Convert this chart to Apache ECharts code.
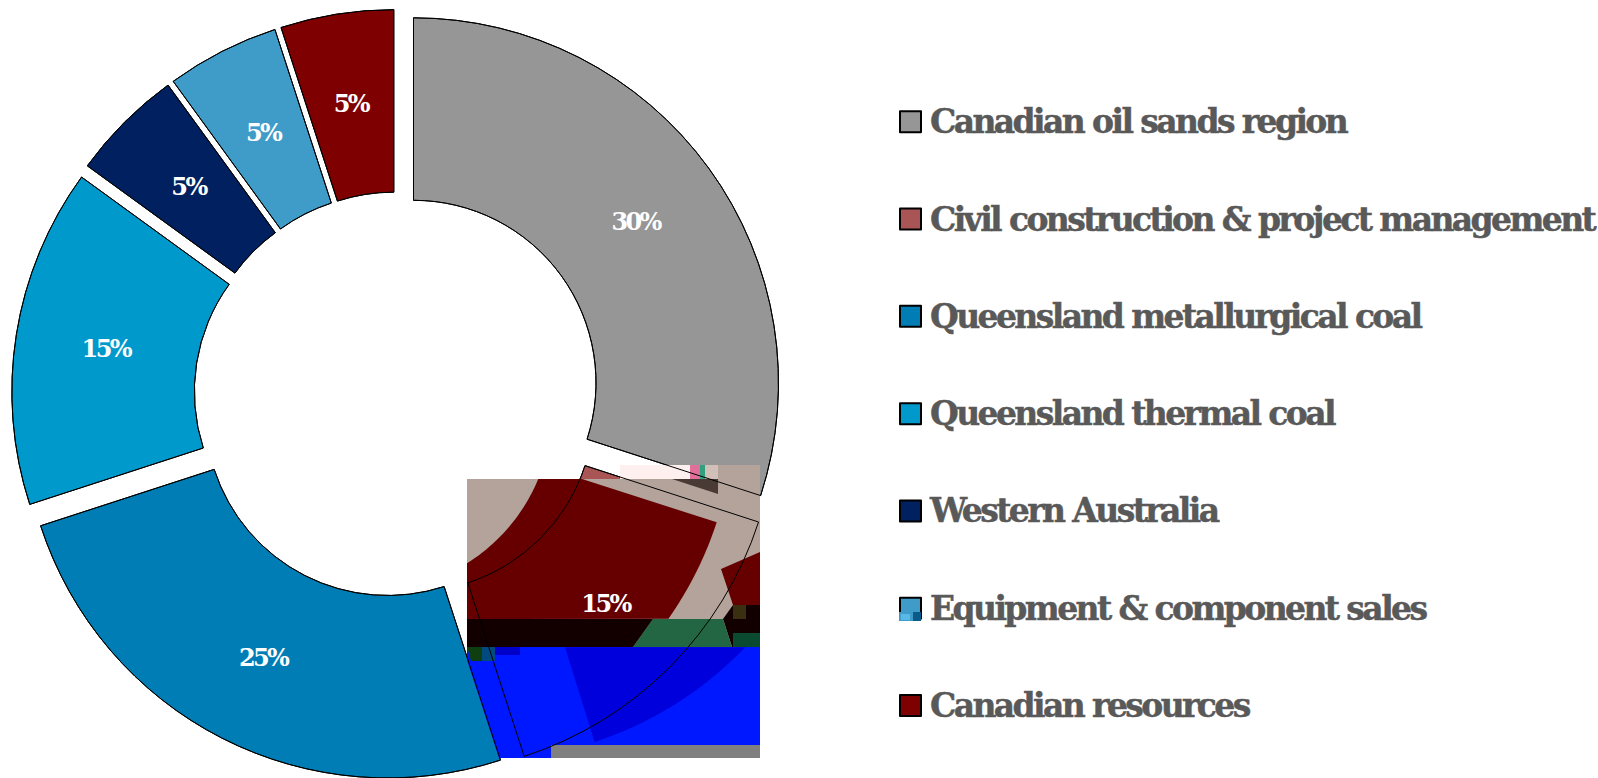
<!DOCTYPE html>
<html>
<head>
<meta charset="utf-8">
<title>Revenue by segment</title>
<script src="https://cdn.jsdelivr.net/npm/echarts@6/dist/echarts.min.js"></script>
<style>
html, body { margin: 0; padding: 0; background: #fff; }
#chart { width: 1598px; height: 778px; }
#chart svg text { letter-spacing: -2.6px; }
</style>
</head>
<body>
<div id="chart"></div>
<script>
// Segment names, clockwise from twelve o'clock
const segments = [
  'Canadian oil sands region',
  'Civil construction & project management',
  'Queensland metallurgical coal',
  'Queensland thermal coal',
  'Western Australia',
  'Equipment & component sales',
  'Canadian resources'
];
// Share of revenue in percent
const shares = [30, 15, 25, 15, 5, 5, 5];
const segmentColors = ['#969696', '#AA5555', '#007DB5', '#0099CC', '#002060', '#3F9CC8', '#7F0000'];

const FONT = '"DejaVu Serif"';
const CENTER = [397, 394.8];
const RADIUS = [182.5, 365];
const OFFSET = 20.4;

const outline = { borderColor: '#000', borderWidth: 1 };

// Points along a circular arc between two points lying on it
function arcPoints(cx, cy, from, to) {
  const r = Math.hypot(from[0] - cx, from[1] - cy);
  const a0 = Math.atan2(from[1] - cy, from[0] - cx);
  const a1 = Math.atan2(to[1] - cy, to[0] - cx);
  const pts = [];
  for (let i = 0; i <= 24; i++) {
    const a = a0 + (a1 - a0) * i / 24;
    pts.push([cx + r * Math.cos(a), cy + r * Math.sin(a)]);
  }
  return pts;
}

// Block of damaged pixels over the lower right of the ring
const patchPolys = [
  ['#B3A39A', [[467, 479], [718, 479], [718, 465], [760, 465], [760, 619], [467, 619]]],
  ['#660000', [
    [582, 479], [716.7, 522.3],
    ...arcPoints(370, 409, [716.7, 522.3], [669.3, 619.3]),
    [467, 619], [467, 563.3],
    ...arcPoints(370, 409, [467, 563.3], [538.3, 479])
  ]],
  ['#660000', [[721, 569], [760, 552], [760, 605], [733, 605]]],
  ['#120000', [[467, 619], [653, 619], [633, 647], [467, 647]]],
  ['#226644', [[653, 619], [723, 619], [732, 647], [633, 647]]],
  ['#120000', [[723, 619], [733, 605], [760, 605], [760, 647], [732, 647]]],
  ['#0018FF', [[467, 647], [760, 647], [760, 745], [551, 745], [551, 758], [499, 758], [467, 660]]],
  ['#0000DD', [[565, 647.3], ...arcPoints(482, 396, [745, 647.3], [595, 743])]],
  ['#808080', [[551, 745], [760, 745], [760, 758], [551, 758]]],
  ['#FFF0F0', [[620, 465], [690, 465], [690, 479], [620, 479]]],
  ['#AA5555', [[585, 467], [620, 478], [620, 479], [582, 479]]],
  ['#4A3A36', [[672, 479], [718, 479], [718, 494]]],
  ['#E0709A', [[690, 465], [700, 465], [700, 479], [690, 479]]],
  ['#30A080', [[700, 465], [705, 465], [705, 479], [700, 479]]],
  ['#D0C0B8', [[705, 465], [718, 465], [718, 479], [705, 479]]],
  ['#0F3F10', [[467, 647], [482, 647], [482, 661], [471, 661]]],
  ['#004A80', [[482, 647], [495, 647], [495, 661], [482, 661]]],
  ['#0000C8', [[495, 647], [520, 647], [520, 655], [495, 655]]],
  ['#3A3010', [[733, 605], [746, 605], [746, 619], [733, 619]]],
  ['#0A4A30', [[733, 633], [760, 633], [760, 647], [733, 647]]],
  ['#3F9CC8', [[899, 612], [913, 612], [913, 621], [899, 621]]],
  ['#58B8E8', [[901, 614], [910, 614], [910, 620], [901, 620]]],
  ['#0A5A8A', [[913, 612], [921, 612], [921, 621], [913, 621]]]
];

const chart = echarts.init(document.getElementById('chart'), null, { renderer: 'svg' });

const slices = segments.map((name, i) => ({
  name,
  value: shares[i],
  selected: true,
  itemStyle: { color: segmentColors[i] },
  select: { itemStyle: { color: segmentColors[i], ...outline } }
}));

// Later passes of the same ring: outlines, then labels, on top of the block
const plainSlices = segments.map((name, i) => ({
  name,
  value: shares[i],
  selected: true
}));

const ringBase = {
  type: 'pie',
  radius: RADIUS,
  center: CENTER,
  startAngle: 90,
  clockwise: true,
  animation: false,
  silent: true,
  avoidLabelOverlap: false,
  selectedMode: 'multiple',
  selectedOffset: OFFSET,
  labelLine: { show: false }
};

chart.setOption({
  backgroundColor: '#fff',
  animation: false,
  legend: {
    orient: 'vertical',
    left: 894,
    top: 100,
    itemWidth: 21,
    itemHeight: 21,
    itemGap: 63.8,
    icon: 'rect',
    selectedMode: false,
    data: segments,
    textStyle: {
      fontFamily: FONT,
      fontWeight: 'bold',
      fontSize: 33,
      lineHeight: 31,
      color: '#595959',
      textBorderColor: '#595959',
      textBorderWidth: 0.5,
      padding: [0, 0, 0, 4]
    }
  },
  graphic: patchPolys.map(([fill, points]) => ({
    type: 'polygon',
    z: 5,
    silent: true,
    shape: { points },
    style: { fill }
  })),
  series: [
    {
      ...ringBase,
      z: 2,
      itemStyle: outline,
      label: { show: false },
      select: { label: { show: false } },
      data: slices
    },
    {
      ...ringBase,
      z: 10,
      itemStyle: { color: 'transparent', ...outline },
      select: { itemStyle: { color: 'transparent', ...outline } },
      label: { show: false },
      data: plainSlices
    },
    {
      ...ringBase,
      z: 11,
      radius: [180, 363],
      itemStyle: { color: 'transparent', borderWidth: 0 },
      select: { itemStyle: { color: 'transparent', borderWidth: 0 } },
      label: {
        show: true,
        position: 'inside',
        formatter: '{c}%',
        color: '#fff',
        fontFamily: FONT,
        fontWeight: 'bold',
        fontSize: 24
      },
      data: plainSlices
    }
  ]
});
</script>
</body>
</html>
